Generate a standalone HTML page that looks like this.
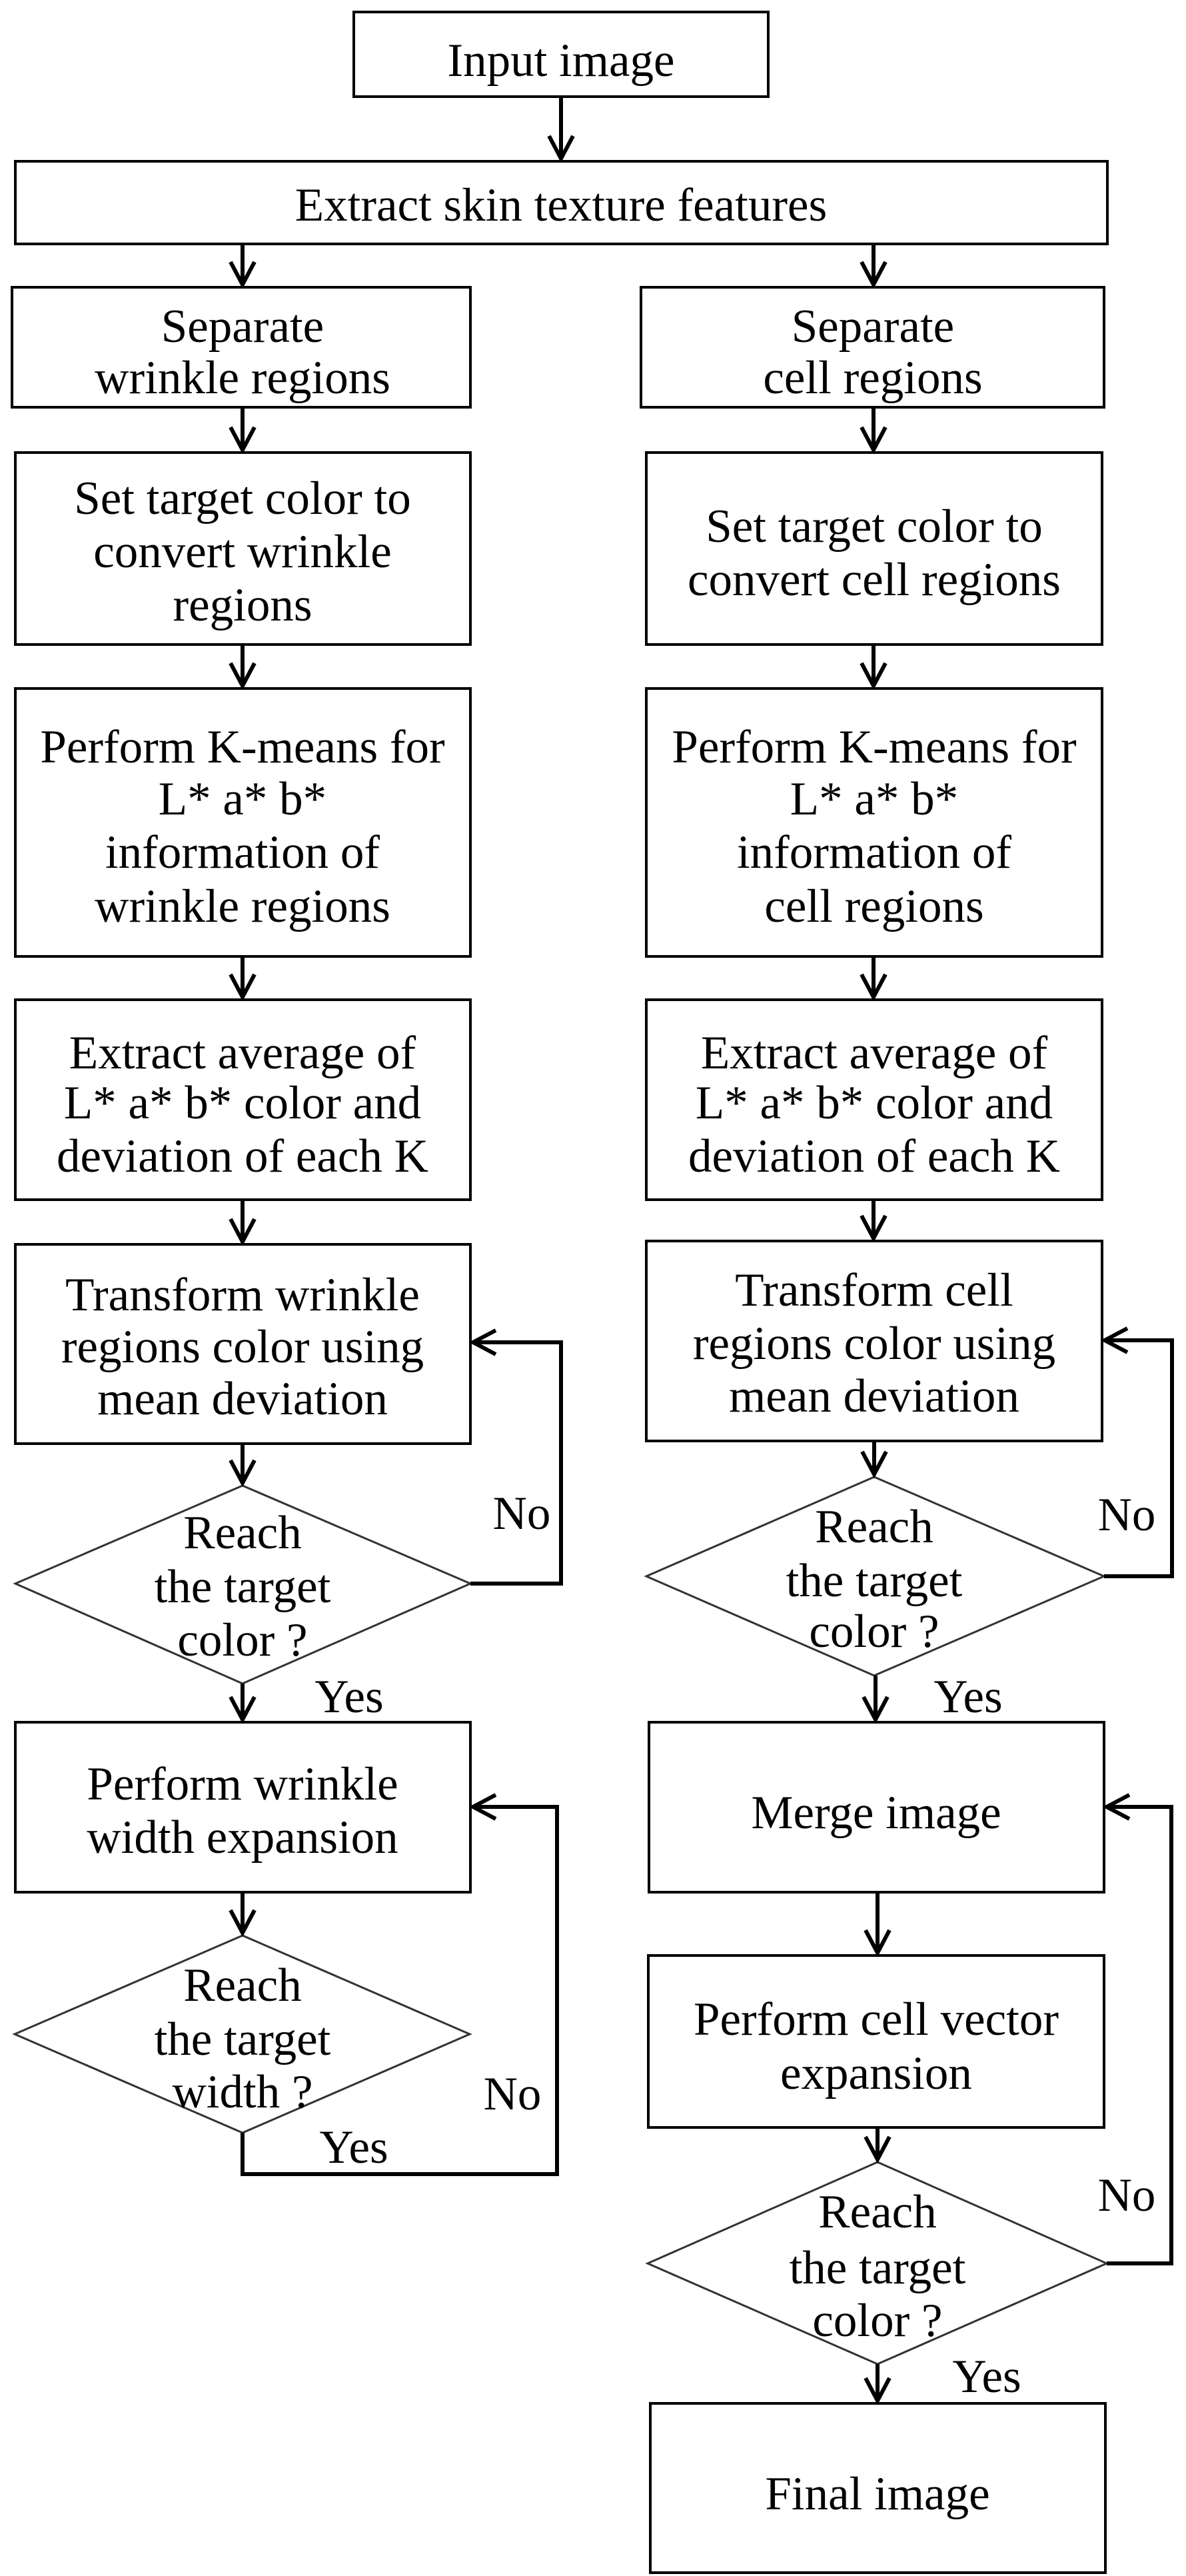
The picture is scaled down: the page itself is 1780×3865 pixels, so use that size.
<!DOCTYPE html>
<html><head><meta charset="utf-8"><style>
html,body{margin:0;padding:0;background:#fff;}
svg{display:block;}
text{font-family:"Liberation Serif",serif;font-size:71px;fill:#000;text-anchor:middle;}
</style></head><body>
<svg width="1780" height="3865" viewBox="0 0 1780 3865" xmlns="http://www.w3.org/2000/svg">
<defs>
<marker id="a" markerWidth="12" markerHeight="12" refX="10" refY="6" orient="auto" markerUnits="userSpaceOnUse" viewBox="0 0 12 12" overflow="visible">
<path d="M-24,-12 L10,6 L-24,24" fill="none" stroke="#000" stroke-width="6"/>
</marker>
</defs>
<g fill="#fff" stroke="#000" stroke-width="4">
<rect x="531" y="18" width="622" height="127"/>
<rect x="23" y="242" width="1639" height="124"/>
<rect x="18" y="431" width="688" height="180"/>
<rect x="962" y="431" width="695" height="180"/>
<rect x="23" y="679" width="683" height="288"/>
<rect x="970" y="679" width="684" height="288"/>
<rect x="23" y="1033" width="683" height="402"/>
<rect x="970" y="1033" width="684" height="402"/>
<rect x="23" y="1500" width="683" height="300"/>
<rect x="970" y="1500" width="684" height="300"/>
<rect x="23" y="1867" width="683" height="299"/>
<rect x="970" y="1862" width="684" height="300"/>
<rect x="23" y="2584" width="683" height="255"/>
<rect x="974" y="2584" width="683" height="255"/>
<rect x="973" y="2934" width="684" height="258"/>
<rect x="976" y="3606" width="683" height="254"/>
</g>
<g fill="#fff" stroke="#333" stroke-width="3">
<polygon points="364,2229 706,2376 364,2526 23,2376"/>
<polygon points="1312,2216 1657,2365 1312,2514 970,2365"/>
<polygon points="364,2904 705,3052 364,3200 22,3052"/>
<polygon points="1317,3244 1661,3396 1317,3547 972,3396"/>
</g>
<g fill="none" stroke="#000" stroke-width="6">
<path d="M842,145 V238" marker-end="url(#a)"/>
<path d="M364,366 V427" marker-end="url(#a)"/>
<path d="M1311,366 V427" marker-end="url(#a)"/>
<path d="M364,611 V675" marker-end="url(#a)"/>
<path d="M1311,611 V675" marker-end="url(#a)"/>
<path d="M364,967 V1029" marker-end="url(#a)"/>
<path d="M1311,967 V1029" marker-end="url(#a)"/>
<path d="M364,1435 V1496" marker-end="url(#a)"/>
<path d="M1311,1435 V1496" marker-end="url(#a)"/>
<path d="M364,1800 V1863" marker-end="url(#a)"/>
<path d="M1311,1800 V1858" marker-end="url(#a)"/>
<path d="M364,2166 V2225" marker-end="url(#a)"/>
<path d="M1312,2162 V2212" marker-end="url(#a)"/>
<path d="M364,2526 V2580" marker-end="url(#a)"/>
<path d="M1314,2514 V2580" marker-end="url(#a)"/>
<path d="M364,2839 V2900" marker-end="url(#a)"/>
<path d="M1317,2839 V2930" marker-end="url(#a)"/>
<path d="M1317,3192 V3240" marker-end="url(#a)"/>
<path d="M1317,3547 V3602" marker-end="url(#a)"/>
<path d="M706,2376 H842 V2014 H710" marker-end="url(#a)"/>
<path d="M1657,2365 H1759 V2011 H1658" marker-end="url(#a)"/>
<path d="M364,3200 V3262 H836 V2711 H710" marker-end="url(#a)"/>
<path d="M1661,3396 H1758 V2711 H1661" marker-end="url(#a)"/>
</g>
<g>
<text x="842" y="114">Input image</text>
<text x="842" y="331">Extract skin texture features</text>
<text x="364" y="513">Separate</text>
<text x="364" y="590">wrinkle regions</text>
<text x="1310" y="513">Separate</text>
<text x="1310" y="590">cell regions</text>
<text x="364" y="771">Set target color to</text>
<text x="364" y="851">convert wrinkle</text>
<text x="364" y="931">regions</text>
<text x="1312" y="813">Set target color to</text>
<text x="1312" y="893">convert cell regions</text>
<text x="364" y="1144">Perform K-means for</text>
<text x="364" y="1222">L* a* b*</text>
<text x="364" y="1302">information of</text>
<text x="364" y="1383">wrinkle regions</text>
<text x="1312" y="1144">Perform K-means for</text>
<text x="1312" y="1222">L* a* b*</text>
<text x="1312" y="1302">information of</text>
<text x="1312" y="1383">cell regions</text>
<text x="364" y="1603">Extract average  of</text>
<text x="364" y="1678">L* a* b* color and</text>
<text x="364" y="1758">deviation of each K</text>
<text x="1312" y="1603">Extract average  of</text>
<text x="1312" y="1678">L* a* b* color and</text>
<text x="1312" y="1758">deviation of each K</text>
<text x="364" y="1966">Transform wrinkle</text>
<text x="364" y="2044">regions color using</text>
<text x="364" y="2122">mean deviation</text>
<text x="1312" y="1959">Transform cell</text>
<text x="1312" y="2039">regions color using</text>
<text x="1312" y="2118">mean deviation</text>
<text x="364" y="2323">Reach</text>
<text x="364" y="2404">the target</text>
<text x="364" y="2484">color ?</text>
<text x="1312" y="2314">Reach</text>
<text x="1312" y="2395">the target</text>
<text x="1312" y="2471">color ?</text>
<text x="364" y="2700">Perform wrinkle</text>
<text x="364" y="2780">width expansion</text>
<text x="1315" y="2743">Merge image</text>
<text x="364" y="3002">Reach</text>
<text x="364" y="3083">the target</text>
<text x="364" y="3162">width ?</text>
<text x="1315" y="3053">Perform cell vector</text>
<text x="1315" y="3134">expansion</text>
<text x="1317" y="3342">Reach</text>
<text x="1317" y="3426">the target</text>
<text x="1317" y="3505">color ?</text>
<text x="1317" y="3765">Final image</text>
<text x="783" y="2294">No</text>
<text x="1691" y="2296">No</text>
<text x="769" y="3165">No</text>
<text x="1691" y="3317">No</text>
<text x="524" y="2569">Yes</text>
<text x="1453" y="2569">Yes</text>
<text x="531" y="3245">Yes</text>
<text x="1481" y="3589">Yes</text>
</g>
</svg>
</body></html>
